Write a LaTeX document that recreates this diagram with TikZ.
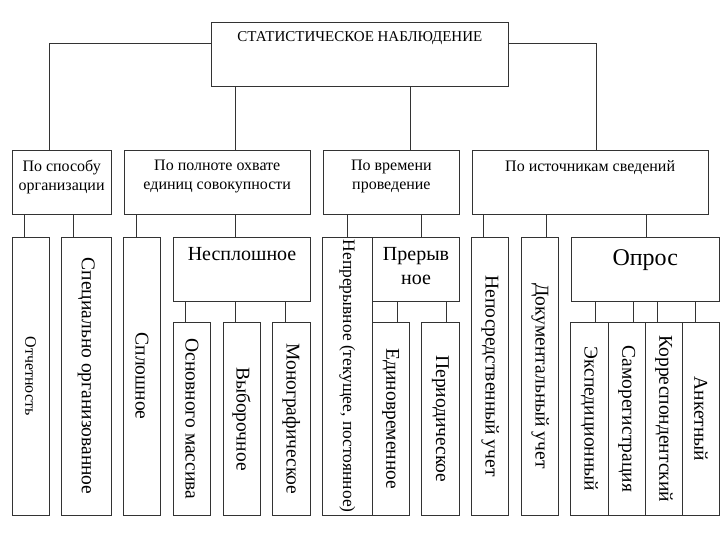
\documentclass[tikz,border=0pt]{standalone}
\usepackage{fontspec}
\setmainfont{Liberation Serif}
\usepackage{tikz}
\usetikzlibrary{positioning}
\tikzstyle{line}=[draw=black!80,line width=0.8pt]
\tikzstyle{box} = [draw=black!80, line width=0.8pt, inner sep=0pt, anchor=north west]
\tikzstyle{vbox} = [draw=black!80, line width=0.8pt, inner sep=0pt, rotate=-90, anchor=west, minimum height=37.3, font=\fontsize{19.5}{22}\selectfont]
\tikzstyle{ttext} = [anchor=north, align=center, inner sep=0pt]

\begin{document}
\begin{tikzpicture}[x=1pt,y=-1pt]
\useasboundingbox (0,0) rectangle (720,540);
% top
\node [box, minimum width=297.5, minimum height=64] (root) at (210.7,21.7) {};
\node [ttext, font=\fontsize{15}{17}\selectfont] (roott) at ([yshift=-9.5]root.north) {СТАТИСТИЧЕСКОЕ НАБЛЮДЕНИЕ};

% second row
\node [box, minimum width=99.5, minimum height=64] (b1) at (11.5,150) {};
\node [box, minimum width=186.3, minimum height=64] (b2) at (123.7,150) {};
\node [box, minimum width=136.6, minimum height=64] (b3) at (322.7,150) {};
\node [box, minimum width=236.5, minimum height=64] (b4) at (471.5,150) {};
\node [ttext, font=\fontsize{16}{19}\selectfont] (b1t) at ([yshift=-10]b1.north) {По способу\\организации};
\node [ttext, font=\fontsize{16}{19}\selectfont] (b2t) at ([yshift=-10]b2.north) {По полноте охвате\\единиц совокупности};
\node [ttext, font=\fontsize{16}{19}\selectfont] (b3t) at ([yshift=-10]b3.north) {По времени\\проведение};
\node [ttext, font=\fontsize{16}{19}\selectfont] (b4t) at ([yshift=-10]b4.north) {По источникам сведений};

% third row
\node [vbox, minimum width=278.5, font=\fontsize{16}{19}\selectfont] (c1) at (30.65,236.5) {Отчетность};
\node [vbox, minimum width=278.5, minimum height=49.3] (c2) at (86.35,236.5) {Специально организованное};
\node [vbox, minimum width=278.5, minimum height=36.6] (c3) at (142,236.5) {Сплошное};
\node [box, minimum width=136.7, minimum height=64.2] (c4) at (173.3,236.5) {};
\node [ttext, font=\fontsize{20}{24}\selectfont] (c4t) at ([yshift=-11]c4.north) {Несплошное};
\node [vbox, minimum width=278.5, minimum height=49.3, font=\fontsize{17.5}{20}\selectfont] (c5) at (347.35,236.5) {Непрерывное (текущее, постоянное)};
\node [box, minimum width=87.3, minimum height=64.2] (c6) at (372,236.5) {};
\node [ttext, font=\fontsize{20}{24}\selectfont] (c6t) at ([yshift=-11]c6.north) {Прерыв\\ное};
\node [vbox, minimum width=278.5, minimum height=37] (c7) at (490.2,236.5) {Непосредственный учет};
\node [vbox, minimum width=278.5, minimum height=37] (c8) at (540.2,236.5) {Документальный учет};
\node [box, minimum width=148.3, minimum height=64.2] (c9) at (570.7,236.5) {};
\node [ttext, font=\fontsize{24}{28}\selectfont] (c9t) at ([yshift=-12.5]c9.north) {Опрос};

% fourth row
\node [vbox, minimum width=193] (d1) at (192,322) {Основного массива};
\node [vbox, minimum width=193] (d2) at (241.65,322) {Выборочное};
\node [vbox, minimum width=193] (d3) at (291.35,322) {Монографическое};
\node [vbox, minimum width=193] (d4) at (390.65,322) {Единовременное};
\node [vbox, minimum width=193] (d5) at (440.5,322) {Периодическое};
\node [vbox, minimum width=193] (d6) at (589.35,322) {Экспедиционный};
\node [vbox, minimum width=193] (d7) at (626.65,322) {Саморегистрация};
\node [vbox, minimum width=193] (d8) at (664,322) {Корреспондентский};
\node [vbox, minimum width=193] (d9) at (700.85,322) {Анкетный};

% connectors
\draw[line] ([yshift=11]root.west) -| (b1.north -| 49.3,0);
\draw[line] ([yshift=11]root.east) -| (b4.north -| 596,0);
\draw[line] (root.south -| 235.7,0) -- (b2.north -| 235.7,0);
\draw[line] (root.south -| 410,0) -- (b3.north -| 410,0);

\draw[line] (b1.south -| 24,0) -- (c1.west -| 24,0);
\draw[line] (b1.south -| 73.5,0) -- (c2.west -| 73.5,0);
\draw[line] (b2.south -| 136,0) -- (c3.west -| 136,0);
\draw[line] (b2.south -| 235.7,0) -- (c4.north -| 235.7,0);
\draw[line] (b3.south -| 347.5,0) -- (c5.west -| 347.5,0);
\draw[line] (b3.south -| 421.5,0) -- (c6.north -| 421.5,0);
\draw[line] (b4.south -| 483,0) -- (c7.west -| 483,0);
\draw[line] (b4.south -| 546,0) -- (c8.west -| 546,0);
\draw[line] (b4.south -| 646,0) -- (c9.north -| 646,0);

\draw[line] (c4.south -| 185.7,0) -- (d1.west -| 185.7,0);
\draw[line] (c4.south -| 235.7,0) -- (d2.west -| 235.7,0);
\draw[line] (c4.south -| 285.3,0) -- (d3.west -| 285.3,0);
\draw[line] (c6.south -| 397,0) -- (d4.west -| 397,0);
\draw[line] (c6.south -| 446.7,0) -- (d5.west -| 446.7,0);
\draw[line] (c9.south -| 595.7,0) -- (d6.west -| 595.7,0);
\draw[line] (c9.south -| 633.3,0) -- (d7.west -| 633.3,0);
\draw[line] (c9.south -| 657.7,0) -- (d8.west -| 657.7,0);
\draw[line] (c9.south -| 695.3,0) -- (d9.west -| 695.3,0);
\end{tikzpicture}
\end{document}
